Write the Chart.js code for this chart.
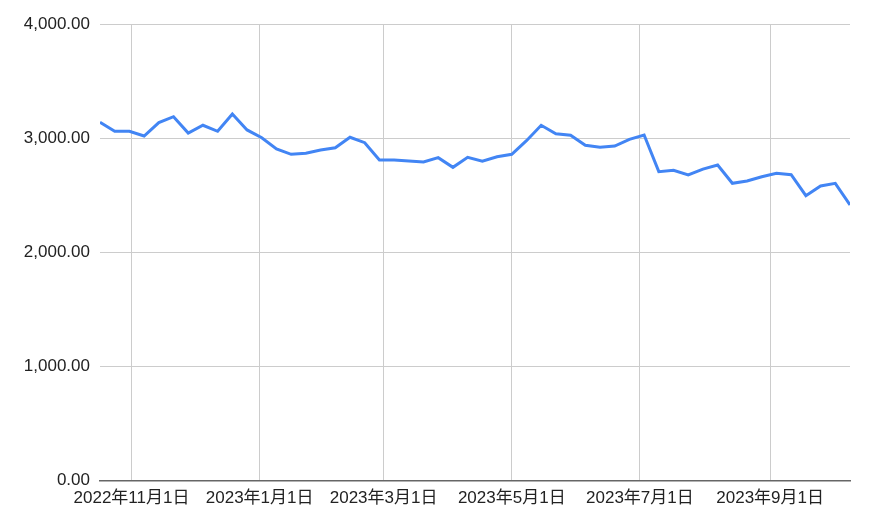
<!DOCTYPE html>
<html>
<head>
<meta charset="utf-8">
<script src="https://cdn.jsdelivr.net/npm/chart.js@4.4.0/dist/chart.umd.min.js"></script>
<style>
  html, body { margin: 0; padding: 0; background: #fff; }
  #wrap { width: 870px; height: 524px; }
</style>
</head>
<body>
<div id="wrap"><canvas id="chart" width="870" height="524"></canvas></div>
<script>
// weekly dates (Mondays)
const weekDates = [
  "2022-10-17", "2022-10-24", "2022-10-31", "2022-11-07", "2022-11-14", "2022-11-21",
  "2022-11-28", "2022-12-05", "2022-12-12", "2022-12-19", "2022-12-26", "2023-01-02",
  "2023-01-09", "2023-01-16", "2023-01-23", "2023-01-30", "2023-02-06", "2023-02-13",
  "2023-02-20", "2023-02-27", "2023-03-06", "2023-03-13", "2023-03-20", "2023-03-27",
  "2023-04-03", "2023-04-10", "2023-04-17", "2023-04-24", "2023-05-01", "2023-05-08",
  "2023-05-15", "2023-05-22", "2023-05-29", "2023-06-05", "2023-06-12", "2023-06-19",
  "2023-06-26", "2023-07-03", "2023-07-10", "2023-07-17", "2023-07-24", "2023-07-31",
  "2023-08-07", "2023-08-14", "2023-08-21", "2023-08-28", "2023-09-04", "2023-09-11",
  "2023-09-18", "2023-09-25", "2023-10-02", "2023-10-09"
];

const values = [
  3142, 3063, 3063, 3022, 3139, 3191, 3048, 3116, 3063, 3215, 3075, 3007,
  2908, 2861, 2870, 2899, 2919, 3011, 2963, 2811, 2811, 2803, 2794, 2832,
  2747, 2835, 2800, 2840, 2861, 2981, 3116, 3042, 3028, 2940, 2923, 2934,
  2993, 3031, 2709, 2721, 2680, 2732, 2768, 2607, 2627, 2665, 2695, 2682,
  2498, 2583, 2607, 2417
];

// x axis tick dates
const tickDates = ["2022-11-01", "2023-01-01", "2023-03-01", "2023-05-01", "2023-07-01", "2023-09-01"];
const yTicks = [0, 1000, 2000, 3000, 4000];

const DAY = 864e5;
const toDay = (s) => Date.parse(s) / DAY;

const fontFamily = "'Liberation Sans', Arial, 'Noto Sans CJK JP', sans-serif";

function fmtDate(v) {
  const d = new Date(Math.round(v) * DAY);
  return `${d.getUTCFullYear()}年${d.getUTCMonth() + 1}月${d.getUTCDate()}日`;
}

new Chart(document.getElementById("chart"), {
  type: "line",
  data: {
    datasets: [
      {
        data: weekDates.map((d, i) => ({ x: toDay(d), y: values[i] })),
        borderColor: "#4285f4",
        borderWidth: 3,
        pointRadius: 0,
        tension: 0,
        fill: false,
      },
    ],
  },
  options: {
    responsive: false,
    animation: false,
    layout: { padding: { left: 0, right: 20, top: 24.5, bottom: 0 } },
    plugins: { legend: { display: false }, tooltip: { enabled: false } },
    scales: {
      x: {
        type: "linear",
        min: toDay(weekDates[0]),
        max: toDay(weekDates[weekDates.length - 1]),
        afterBuildTicks: (scale) => {
          scale.ticks = tickDates.map((d) => ({ value: toDay(d) }));
        },
        afterFit: (scale) => {
          scale.height = 43.5;
        },
        grid: { color: "#cccccc", lineWidth: 1, drawTicks: false },
        border: { display: true, color: "#666666", width: 1.5 },
        ticks: {
          autoSkip: false,
          maxRotation: 0,
          padding: 8,
          color: "#222222",
          font: { family: fontFamily, size: 17 },
          callback: (v) => fmtDate(v),
        },
      },
      y: {
        min: 0,
        max: 4000,
        afterBuildTicks: (scale) => {
          scale.ticks = yTicks.map((v) => ({ value: v }));
        },
        afterFit: (scale) => {
          scale.width = 100;
        },
        grid: { color: "#cccccc", lineWidth: 1, drawTicks: false },
        border: { display: false },
        ticks: {
          padding: 10,
          color: "#222222",
          font: { family: fontFamily, size: 17 },
          callback: (v) =>
            v.toLocaleString("en-US", { minimumFractionDigits: 2, maximumFractionDigits: 2 }),
        },
      },
    },
  },
});
</script>
</body>
</html>
